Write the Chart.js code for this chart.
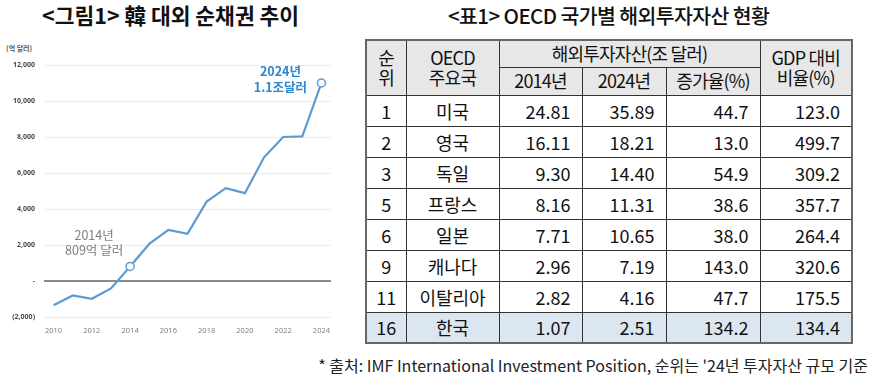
<!DOCTYPE html>
<html>
<head>
<meta charset="utf-8">
<script src="https://cdn.jsdelivr.net/npm/chart.js@4/dist/chart.umd.min.js"></script>
<style>
	body { margin: 0; background: #fff; width: 876px; height: 384px; position: relative; overflow: hidden; font-family: "Noto Sans CJK KR", "Noto Sans", sans-serif; }
	.title { position: absolute; top: 0px; font-size: 21.5px; font-weight: 700; color: #111; white-space: nowrap; line-height: 30px; }
	#leftTitle { left: 42px; }
	#rightTitle { left: 448px; font-size: 20.5px; font-weight: 500; letter-spacing: -0.6px; }
	#unit { position: absolute; left: 6px; top: 43px; font-size: 7px; font-weight: 700; color: #555; }
	#chartBox { position: absolute; left: 0; top: 0; }
	table { position: absolute; left: 365px; top: 39px; border-collapse: collapse; table-layout: fixed; border: 2px solid #666; }
	td { border: 1px solid #333; font-size: 18px; color: #111; padding: 0; white-space: nowrap; line-height: 1; }
	thead td { background: #e7e7e7; text-align: center; font-size: 18px; letter-spacing: -0.8px; line-height: 1.1; }
	tbody tr { height: 31px; }
	tbody td.c { text-align: center; }
	tbody td.n { text-align: right; padding-right: 11px; }
	tr.kr td { background: #dce6f1; }
	#note { position: absolute; right: 8px; top: 353px; font-size: 16px; color: #222; letter-spacing: 0; white-space: nowrap; }
</style>
</head>
<body>
<div class="title" id="leftTitle">&lt;그림1&gt; 韓 대외 순채권 추이</div>
<div class="title" id="rightTitle">&lt;표1&gt; OECD 국가별 해외투자자산 현황</div>
<div id="unit">(억 달러)</div>
<div id="chartBox"><canvas id="lineChart" width="340" height="345"></canvas></div>
<table id="tbl">
	<colgroup><col style="width:40px"><col style="width:93px"><col style="width:83px"><col style="width:84px"><col style="width:94px"><col style="width:92px"></colgroup>
	<thead>
		<tr style="height:27px"><td rowspan="2">순<br>위</td><td rowspan="2">OECD<br>주요국</td><td colspan="3">해외투자자산(조 달러)</td><td rowspan="2">GDP 대비<br>비율(%)</td></tr>
		<tr style="height:28px"><td>2014년</td><td>2024년</td><td>증가율(%)</td></tr>
	</thead>
	<tbody id="tbody"></tbody>
</table>
<div id="note">* 출처: IMF International Investment Position, 순위는 '24년 투자자산 규모 기준</div>
<script>
// line chart data
const years = ['2010', '2011', '2012', '2013', '2014', '2015', '2016', '2017', '2018', '2019', '2020', '2021', '2022', '2023', '2024'];
const netClaims = [-1350, -800, -990, -410, 809, 2060, 2840, 2620, 4410, 5160, 4880, 6870, 8000, 8030, 11000];
const markedYears = ['2014', '2024'];

// table data
const ranks = [1, 2, 3, 5, 6, 9, 11, 16];
const countries = ['미국', '영국', '독일', '프랑스', '일본', '캐나다', '이탈리아', '한국'];
const assets2014 = ['24.81', '16.11', '9.30', '8.16', '7.71', '2.96', '2.82', '1.07'];
const assets2024 = ['35.89', '18.21', '14.40', '11.31', '10.65', '7.19', '4.16', '2.51'];
const growthRates = ['44.7', '13.0', '54.9', '38.6', '38.0', '143.0', '47.7', '134.2'];
const gdpRatios = ['123.0', '499.7', '309.2', '357.7', '264.4', '320.6', '175.5', '134.4'];

const blueColor = '#5b9bd5',
	blueTextColor = '#2f86d1',
	greyTextColor = '#808080';

// build table rows
const tbody = document.getElementById('tbody');
ranks.forEach(function(rank, i) {
	const tr = document.createElement('tr');
	if (countries[i] === '한국') tr.className = 'kr';
	const cells = [[rank, 'c'], [countries[i], 'c'], [assets2014[i], 'n'], [assets2024[i], 'n'], [growthRates[i], 'n'], [gdpRatios[i], 'n']];
	cells.forEach(function(c) {
		const td = document.createElement('td');
		td.textContent = c[0];
		td.className = c[1];
		tr.appendChild(td);
	});
	tbody.appendChild(tr);
});

// annotation labels next to marked points
const notes = [
	{ year: '2014', lines: ['2014년', '809억 달러'], color: greyTextColor, weight: '400', dx: -36, dy: [-31, -16] },
	{ year: '2024', lines: ['2024년', '1.1조달러'], color: blueTextColor, weight: '700', dx: -41, dy: [-12, 4] }
];

const notePlugin = {
	id: 'notes',
	afterDatasetsDraw(chart) {
		const ctx = chart.ctx;
		const xs = chart.scales.x, ys = chart.scales.y;
		ctx.save();
		ctx.textAlign = 'center';
		ctx.textBaseline = 'middle';
		notes.forEach(function(n) {
			const i = years.indexOf(n.year);
			const px = xs.getPixelForValue(i);
			const py = ys.getPixelForValue(netClaims[i]);
			ctx.fillStyle = n.color;
			ctx.font = n.weight + ' 12.5px "Noto Sans CJK KR", "Noto Sans", sans-serif';
			n.lines.forEach(function(t, k) {
				ctx.fillText(t, px + n.dx, py + n.dy[k]);
			});
		});
		ctx.restore();
	}
};

const lineChart = new Chart(document.getElementById('lineChart'), {
	type: 'line',
	data: {
		labels: years,
		datasets: [
			{
				data: netClaims,
				borderColor: blueColor,
				borderWidth: 2.2,
				tension: 0,
				pointRadius: years.map(y => markedYears.includes(y) ? 4 : 0),
				pointBackgroundColor: '#fff',
				pointBorderColor: blueColor,
				pointBorderWidth: 1.5
			}
		]
	},
	options: {
		responsive: false,
		animation: false,
		layout: { padding: { top: 65, right: 9, left: 0, bottom: 0 } },
		plugins: {
			legend: { display: false },
			tooltip: { enabled: false }
		},
		scales: {
			x: {
				offset: true,
				grid: { display: false, drawTicks: false },
				border: { display: false },
				afterFit: function(scale) { scale.height = 28; },
				ticks: {
					autoSkip: false,
					maxRotation: 0,
					padding: 9,
					color: greyTextColor,
					font: { size: 7.5, family: '"Noto Sans", sans-serif' },
					callback: function(val, index) {
						return index % 2 === 0 ? this.getLabelForValue(val) : '';
					}
				}
			},
			y: {
				min: -2000,
				max: 12000,
				border: { display: false },
				afterFit: function(scale) { scale.width = 44; },
				grid: {
					drawTicks: false,
					color: ctx => ctx.tick && ctx.tick.value === 0 ? '#8a8a8a' : '#ececec',
					lineWidth: ctx => ctx.tick && ctx.tick.value === 0 ? 2 : 1
				},
				ticks: {
					stepSize: 2000,
					padding: 9,
					color: '#4a4a4a',
					font: { size: 7, weight: 'bold', family: '"Noto Sans", sans-serif' },
					callback: function(v) {
						if (v === 0) return '-';
						if (v < 0) return '(' + Math.abs(v).toLocaleString('en-US') + ')';
						return v.toLocaleString('en-US');
					}
				}
			}
		}
	},
	plugins: [notePlugin]
});
</script>
</body>
</html>
